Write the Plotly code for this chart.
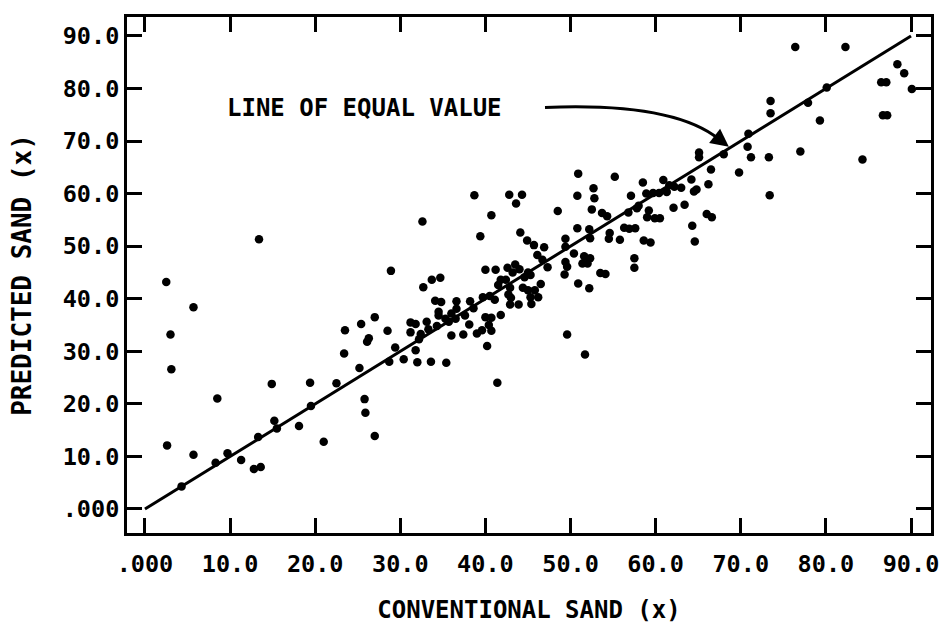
import plotly.graph_objects as go

# Conventional sand (%) vs predicted sand (%)
conventional = [
    2.5, 5.7, 3.0, 3.1, 2.6, 5.7, 8.5, 9.7, 8.3, 11.3,
    12.8, 13.6, 4.3, 13.3, 14.9, 15.2, 15.5, 18.1, 19.4, 19.5,
    21.0, 22.5, 23.4, 23.5, 25.2, 25.4, 26.3, 26.1, 27.0, 25.8,
    25.9, 27.0, 28.5, 28.7, 29.4, 30.4, 31.8, 32.0, 33.6, 35.4,
    13.4, 28.9, 32.6, 31.2, 31.8, 31.2, 33.1, 33.3, 34.5, 34.3,
    36.0, 36.5, 35.7, 37.6, 38.1, 36.0, 37.4, 32.4, 32.2, 33.7,
    34.7, 32.7, 34.1, 34.8, 36.6, 38.2, 39.7, 40.5, 41.1, 34.5,
    35.3, 36.6, 38.6, 40.0, 40.7, 41.8, 40.4, 39.6, 40.7, 39.0,
    40.2, 41.4, 39.4, 40.0, 41.2, 38.7, 42.8, 44.3, 43.6, 40.7,
    44.1, 44.9, 45.7, 46.9, 46.1, 46.7, 47.3, 42.6, 43.5, 44.0,
    43.2, 41.8, 41.5, 42.4, 44.6, 45.0, 45.3, 44.4, 45.0, 45.8,
    46.5, 42.9, 42.7, 43.0, 42.9, 43.9, 45.3, 46.2, 45.4, 49.6,
    51.7, 48.5, 52.5, 49.4, 50.8, 52.2, 52.3, 50.4, 51.6, 52.3,
    52.0, 49.4, 49.6, 49.3, 50.9, 52.2, 49.4, 51.4, 50.9, 55.2,
    58.5, 52.7, 52.8, 50.8, 53.7, 54.3, 56.8, 57.8, 58.0, 59.2,
    59.0, 59.9, 60.5, 54.6, 54.5, 55.8, 56.3, 56.9, 57.6, 58.6,
    59.4, 57.5, 57.5, 53.5, 54.1, 60.9, 61.6, 62.2, 63.0, 58.9,
    59.7, 60.4, 61.3, 57.1, 65.1, 65.1, 66.5, 66.2, 64.2, 64.5,
    64.8, 63.4, 62.1, 66.0, 66.6, 64.3, 64.6, 68.0, 69.8, 70.9,
    70.8, 71.2, 73.3, 77.0, 73.4, 73.5, 73.5, 77.9, 80.1, 79.3,
    84.3, 76.4, 82.3, 88.4, 89.2, 86.5, 87.1, 86.7, 87.2, 90.1,
]
predicted = [
    43.2, 38.4, 33.2, 26.6, 12.1, 10.3, 21.0, 10.6, 8.8, 9.3,
    7.6, 8.0, 4.3, 13.7, 23.8, 16.8, 15.3, 15.8, 24.0, 19.6,
    12.8, 23.9, 29.6, 34.0, 26.8, 35.2, 32.5, 31.8, 36.5, 20.9,
    18.3, 13.9, 33.9, 28.0, 30.7, 28.5, 30.2, 27.9, 28.0, 27.8,
    51.3, 45.3, 54.7, 35.5, 35.2, 33.6, 35.6, 34.2, 36.8, 34.8,
    37.2, 36.2, 35.6, 36.8, 35.1, 33.0, 33.2, 33.3, 32.3, 43.6,
    44.0, 42.2, 39.6, 39.4, 39.5, 39.5, 40.3, 40.5, 39.8, 37.5,
    36.2, 38.1, 38.2, 36.5, 36.4, 36.9, 35.0, 34.0, 33.9, 33.4,
    31.0, 24.0, 51.9, 45.5, 45.5, 59.7, 59.8, 59.8, 58.1, 55.9,
    52.6, 51.1, 50.2, 49.8, 48.3, 47.4, 46.0, 45.9, 46.5, 45.6,
    45.0, 43.6, 42.6, 43.6, 44.1, 45.0, 44.5, 42.1, 41.6, 41.6,
    42.8, 42.1, 40.8, 40.2, 38.9, 38.9, 40.3, 40.3, 39.0, 33.2,
    29.4, 56.7, 57.0, 51.4, 53.4, 53.2, 51.5, 48.6, 48.1, 47.7,
    46.7, 47.0, 46.1, 44.6, 42.9, 42.0, 49.9, 46.7, 63.8, 63.2,
    62.1, 61.0, 59.1, 59.6, 56.3, 55.7, 56.4, 57.2, 57.7, 56.8,
    55.5, 55.3, 55.3, 52.5, 51.4, 51.2, 53.5, 53.3, 53.4, 51.1,
    50.7, 47.7, 45.9, 44.9, 44.7, 62.6, 61.6, 61.3, 61.1, 60.0,
    60.1, 60.1, 60.3, 59.6, 67.8, 66.9, 64.6, 61.8, 62.7, 60.4,
    60.8, 57.9, 57.3, 56.1, 55.5, 53.9, 50.9, 67.5, 64.0, 71.4,
    68.9, 66.9, 66.9, 68.0, 59.7, 77.6, 75.3, 77.3, 80.2, 73.9,
    66.5, 87.9, 87.9, 84.6, 82.9, 81.2, 81.2, 74.9, 74.9, 79.9,
]

# Line of equal value (y = x)
equal_line_x = [0, 90]
equal_line_y = [0, 90]

tick_values = [0, 10, 20, 30, 40, 50, 60, 70, 80, 90]
tick_labels = [".000", "10.0", "20.0", "30.0", "40.0", "50.0", "60.0", "70.0", "80.0", "90.0"]

FONT = "DejaVu Sans Mono"
W, H = 941, 627
M_L, M_R, M_T, M_B = 127, 10, 17, 94
X_RANGE = [-2.11, 92.35]
Y_RANGE = [-4.57, 93.6]
TICK_PX = 15


def bold(s):
    return "<b>" + s + "</b>"


fig = go.Figure()
fig.add_trace(go.Scatter(
    x=equal_line_x, y=equal_line_y, mode="lines",
    line=dict(color="black", width=3), hoverinfo="skip", showlegend=False))
fig.add_trace(go.Scatter(
    x=conventional, y=predicted, mode="markers",
    marker=dict(color="black", size=8.5, line=dict(width=0)),
    showlegend=False))

# curved arrow pointing at the line
fig.add_shape(type="path", xref="x", yref="y",
              path="M 47.0,76.4 Q 62.0,77.4 67.4,70.4",
              line=dict(color="black", width=3))
fig.add_annotation(x=68.6, y=68.9, ax=67.0, ay=70.9, xref="x", yref="y",
                   axref="x", ayref="y", text="", showarrow=True,
                   arrowhead=2, arrowsize=1.2, arrowwidth=3, arrowcolor="black")
fig.add_annotation(x=25.8, y=76.3, xref="x", yref="y", text=bold("LINE OF EQUAL VALUE"),
                   showarrow=False, xanchor="center", yanchor="middle",
                   font=dict(family=FONT, size=24, color="black"))

axis_common = dict(
    showline=True, linecolor="black", linewidth=3, mirror="ticks",
    ticks="inside", ticklen=TICK_PX, tickwidth=3, tickcolor="black",
    showgrid=False, zeroline=False,
    tickvals=tick_values, ticktext=[bold(t) for t in tick_labels],
    tickfont=dict(family=FONT, size=23.5, color="black"),
)

fig.update_layout(
    template="none",
    width=W, height=H,
    margin=dict(l=M_L, r=M_R, t=M_T, b=M_B),
    paper_bgcolor="white", plot_bgcolor="white",
    xaxis=dict(range=X_RANGE,
               title=dict(text=bold("CONVENTIONAL SAND (x)"), standoff=24,
                          font=dict(family=FONT, size=24, color="black")),
               ticklabelstandoff=8,
               **axis_common),
    yaxis=dict(range=Y_RANGE,
               title=dict(text=bold("PREDICTED SAND (x)"), standoff=24,
                          font=dict(family=FONT, size=26, color="black")),
               **axis_common),
)

fig.write_html("out.html", config={"displayModeBar": False},
               post_script="document.body.style.margin='0';")
